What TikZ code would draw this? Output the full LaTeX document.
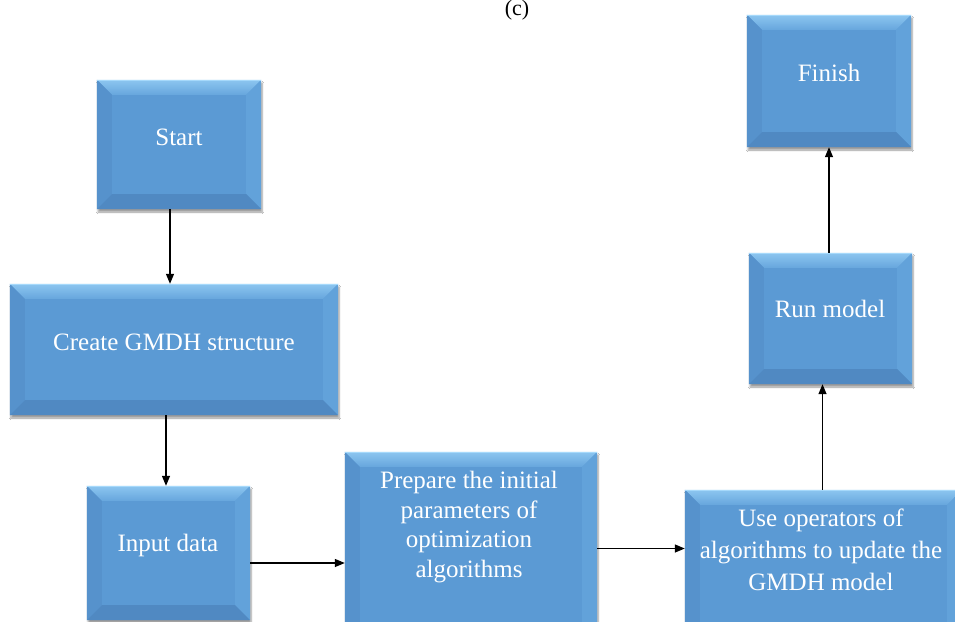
\documentclass[tikz,border=0pt]{standalone}
\usepackage{fontspec}
\setmainfont{Liberation Serif}
\usetikzlibrary{arrows.meta,fit,shadows.blur}
\definecolor{face}{HTML}{5B9AD4}
\definecolor{bvtopA}{HTML}{8CC6F0}
\definecolor{bvtopB}{HTML}{67A6DD}
\definecolor{bvleft}{HTML}{5692CC}
\definecolor{bvright}{HTML}{62A2DA}
\definecolor{bvbot}{HTML}{5089C2}
\definecolor{hilite}{HTML}{A6D9FB}
\tikzset{
  boxface/.style={fill=face, draw=none, inner sep=0pt,
    blur shadow={shadow xshift=1pt, shadow yshift=-3pt, shadow blur steps=6, shadow opacity=40}},
  boxtext/.style={text=white, align=center, font=\fontsize{25}{30}\selectfont},
  arr/.style={line width=1.3pt, -{Triangle[length=10pt,width=8pt]}},
}
\newlength\bv
\setlength\bv{15pt}
\newcommand\bevbox[5]{%
  \coordinate (#1-nw) at (#2,#3);
  \coordinate (#1-se) at (#4,#5);
  \node[boxface, fit=(#1-nw)(#1-se)] (#1) {};
  \shade[top color=bvtopA, bottom color=bvtopB] (#1.north west) -- (#1.north east) -- ([xshift=-\bv,yshift=-\bv]#1.north east) -- ([xshift=\bv,yshift=-\bv]#1.north west) -- cycle;
  \fill[bvleft] (#1.north west) -- ([xshift=\bv,yshift=-\bv]#1.north west) -- ([xshift=\bv,yshift=\bv]#1.south west) -- (#1.south west) -- cycle;
  \fill[bvright] (#1.north east) -- ([xshift=-\bv,yshift=-\bv]#1.north east) -- ([xshift=-\bv,yshift=\bv]#1.south east) -- (#1.south east) -- cycle;
  \fill[bvbot] (#1.south west) -- ([xshift=\bv,yshift=\bv]#1.south west) -- ([xshift=-\bv,yshift=\bv]#1.south east) -- (#1.south east) -- cycle;
  \draw[hilite, line width=1.2pt] ([yshift=-0.6pt]#1.north west) -- ([yshift=-0.6pt]#1.north east);
}
\begin{document}
\begin{tikzpicture}[x=1pt, y=-1pt]
\useasboundingbox (0,0) rectangle (955,621);
\clip (0,0) rectangle (955,621);
\fill[white] (0,0) rectangle (955,621);

\node[anchor=north, inner sep=0pt, font=\fontsize{22}{26}\selectfont] (lbl) at (517,0.5) {(c)};

\bevbox{start}{97}{80}{261}{209}
\node[boxtext] (start-t) at (179,137) {Start};

\bevbox{create}{10}{284}{338}{415}
\node[boxtext] (create-t) at (174,342) {Create GMDH structure};

\bevbox{input}{87}{486}{250}{620}
\node[boxtext] (input-t) at (168,545) {Input data};

\bevbox{prep}{345}{452}{597}{645}
\node[boxtext, font=\fontsize{25}{29.7}\selectfont] (prep-t) at (469,527) {Prepare the initial\\parameters of\\optimization\\algorithms};

\bevbox{use}{685}{490}{962}{645}
\node[boxtext, font=\fontsize{25}{32}\selectfont] (use-t) at (821,550) {Use operators of\\algorithms to update the\\GMDH model};

\bevbox{run}{749}{253}{912}{384}
\node[boxtext] (run-t) at (830,309) {Run model};

\bevbox{finish}{747}{15}{911}{147}
\node[boxtext] (finish-t) at (829,73) {Finish};

\draw[arr] ([xshift=-9pt]start.south) -- ([xshift=-9pt]start.south |- create.north);
\draw[arr] ([xshift=-8pt]create.south) -- ([xshift=-8pt]create.south |- input.north);
\draw[arr] ([yshift=-10pt]input.east) -- ([yshift=-10pt]input.east -| prep.west);
\draw[arr] ([yshift=0pt]prep.east) -- ([yshift=0pt]prep.east -| use.west);
\draw[arr] ([xshift=-1pt]use.north) -- ([xshift=-1pt]use.north |- run.south);
\draw[arr] ([xshift=-1.5pt]run.north) -- ([xshift=-1.5pt]run.north |- finish.south);
\end{tikzpicture}
\end{document}
